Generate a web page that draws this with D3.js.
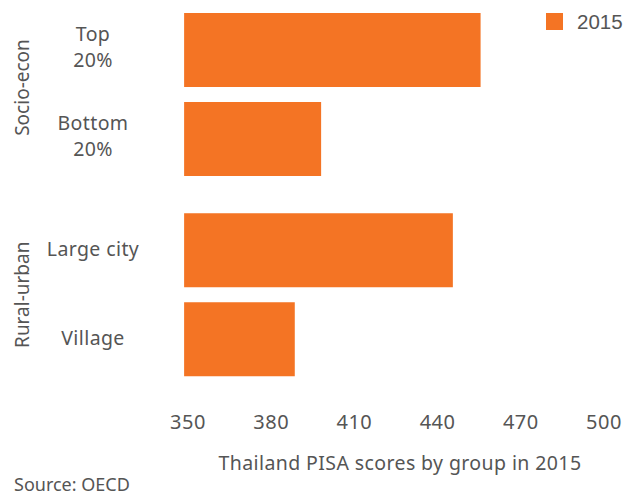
<!DOCTYPE html>
<html>
<head>
<meta charset="utf-8">
<script src="https://cdn.jsdelivr.net/npm/d3@7"></script>
<style>
  body { margin: 0; background: #fff; }
  text { font-family: 'Noto Sans', sans-serif; fill: #555; }
</style>
</head>
<body>
<div id="graf"></div>
<script>
// datos
grupos   = ['Socio-econ', 'Socio-econ', 'Rural-urban', 'Rural-urban']
etiquetas = [['Top', '20%'], ['Bottom', '20%'], ['Large city'], ['Village']]
puntajes = [455.5, 398, 445.5, 388.5]
ticks    = [350, 380, 410, 440, 470, 500]
base     = 348.6

ancho_total = 638
alto_total  = 497

svg = d3.select('#graf').append('svg')
        .attr('width', ancho_total)
        .attr('height', alto_total)

// escaladores
x = d3.scaleLinear().domain([350, 500]).range([188, 604])
// posiciones verticales: dos grupos con hueco entre ellos
y = d3.scaleLinear().domain([0, 1]).range([13, 102])
filaY = [0, 1, 2.25, 3.25]
altoBarra = 74

g = svg.append('g')

g.selectAll('rect.barra')
  .data(puntajes)
  .enter()
  .append('rect')
    .attr('class', 'barra')
    .attr('x', x(base))
    .attr('y', (d, i) => y(filaY[i]))
    .attr('width', d => x(d) - x(base))
    .attr('height', altoBarra)
    .attr('fill', '#f47424')

// etiquetas de categoria
etiquetas.forEach((lineas, i) => {
  cy = y(filaY[i]) + altoBarra / 2
  t = g.append('text')
        .attr('x', 93)
        .attr('text-anchor', 'middle')
        .attr('font-size', '19.5px')
        .attr('letter-spacing', '0.4px')
  lineas.forEach((l, j) => {
    t.append('tspan')
      .attr('x', 93)
      .attr('y', cy + 6 + (j - (lineas.length - 1) / 2) * 26 - (lineas.length > 1 ? 2 : 0))
      .text(l)
  })
})

// etiquetas de grupo (rotadas)
nombresGrupo = Array.from(new Set(grupos))
nombresGrupo.forEach(n => {
  idx = grupos.map((d, i) => d == n ? i : -1).filter(i => i >= 0)
  top_ = y(filaY[idx[0]])
  bot_ = y(filaY[idx[idx.length - 1]]) + altoBarra
  cy = (top_ + bot_) / 2 - (n == 'Socio-econ' ? 7 : 0)
  g.append('text')
    .attr('transform', `translate(29, ${cy}) rotate(-90)`)
    .attr('text-anchor', 'middle')
    .attr('font-size', '19px')
    .text(n)
})

// eje x (solo textos)
g.selectAll('text.tick')
  .data(ticks)
  .enter()
  .append('text')
    .attr('class', 'tick')
    .attr('x', d => x(d))
    .attr('y', 429)
    .attr('text-anchor', 'middle')
    .attr('font-size', '20px')
    .attr('letter-spacing', '0.5px')
    .text(d => d)

g.append('text')
  .attr('x', 400)
  .attr('y', 470)
  .attr('text-anchor', 'middle')
  .attr('font-size', '19.5px')
  .attr('letter-spacing', '0.4px')
  .text('Thailand PISA scores by group in 2015')

g.append('text')
  .attr('x', 14)
  .attr('y', 491)
  .attr('font-size', '18px')
  .text('Source: OECD')

// leyenda
g.append('rect')
  .attr('x', 546)
  .attr('y', 13)
  .attr('width', 17)
  .attr('height', 17)
  .attr('fill', '#f47424')
g.append('text')
  .attr('x', 577)
  .attr('y', 29)
  .attr('font-size', '20.5px')
  .style('font-family', 'Liberation Sans, Arial, sans-serif')
  .text('2015')
</script>
</body>
</html>
